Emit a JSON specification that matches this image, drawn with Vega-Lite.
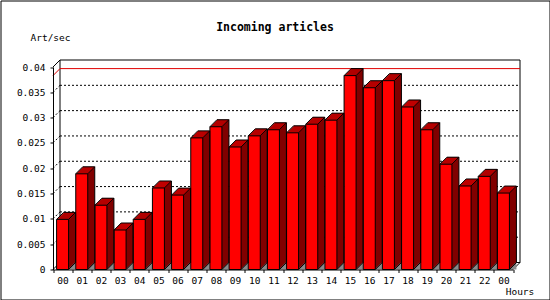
{
  "$schema": "https://vega.github.io/schema/vega-lite/v6.json",
  "width": 549,
  "height": 299,
  "autosize": "none",
  "padding": {"left": 0.5, "top": 0.5, "right": 0.5, "bottom": 0.5},
  "background": "white",
  "config": {"view": {"stroke": "black", "strokeWidth": 1}},
  "title": {"text": "Incoming articles", "font": "DejaVu Sans Mono", "fontSize": 11.5, "fontWeight": "bold", "color": "black", "anchor": "middle", "frame": "group", "offset": -39, "baseline": "middle"},
  "resolve": {"axis": {"x": "independent", "y": "independent"}},
  "datasets": {
    "hours": [
      {"hour": "00", "rate": 0.0099},
      {"hour": "01", "rate": 0.0189},
      {"hour": "02", "rate": 0.0127},
      {"hour": "03", "rate": 0.0078},
      {"hour": "04", "rate": 0.0099},
      {"hour": "05", "rate": 0.0161},
      {"hour": "06", "rate": 0.0147},
      {"hour": "07", "rate": 0.0260},
      {"hour": "08", "rate": 0.0282},
      {"hour": "09", "rate": 0.0242},
      {"hour": "10", "rate": 0.0264},
      {"hour": "11", "rate": 0.0276},
      {"hour": "12", "rate": 0.0270},
      {"hour": "13", "rate": 0.0287},
      {"hour": "14", "rate": 0.0295},
      {"hour": "15", "rate": 0.0383},
      {"hour": "16", "rate": 0.0359},
      {"hour": "17", "rate": 0.0373},
      {"hour": "18", "rate": 0.0321},
      {"hour": "19", "rate": 0.0276},
      {"hour": "20", "rate": 0.0208},
      {"hour": "21", "rate": 0.0165},
      {"hour": "22", "rate": 0.0184},
      {"hour": "00 ", "rate": 0.0151}
    ],
    "grid": [{"v": 0.005}, {"v": 0.01}, {"v": 0.015}, {"v": 0.02}, {"v": 0.025}, {"v": 0.03}, {"v": 0.035}]
  },
  "data": {"name": "hours"},
  "layer": [
    {
      "mark": {"type": "bar", "width": 0.01, "fill": "white", "opacity": 0},
      "encoding": {
        "x": {
          "field": "hour", "type": "ordinal", "sort": null,
          "scale": {"domain": ["00","01","02","03","04","05","06","07","08","09","10","11","12","13","14","15","16","17","18","19","20","21","22","00 "], "range": [52.5, 512.5], "paddingInner": 0, "paddingOuter": 0},
          "axis": {"orient": "bottom", "offset": -30, "tickBand": "extent", "tickSize": 3, "tickColor": "black", "domainColor": "black", "labelFont": "DejaVu Sans Mono", "labelFontSize": 9.5, "labelColor": "black", "labelPadding": 3, "labelAngle": 0, "labelExpr": "trim(datum.label)", "labelOverlap": false, "grid": false, "title": "Hours", "titleX": 519, "titleY": 22, "titleFont": "DejaVu Sans Mono", "titleFontSize": 9.5, "titleFontWeight": "normal", "titleColor": "black", "titleBaseline": "middle", "titleAlign": "center", "zindex": 1}
        },
        "y": {
          "field": "rate", "type": "quantitative",
          "scale": {"domain": [0, 0.04], "range": [269, 66.5], "nice": false, "zero": true},
          "axis": {"orient": "left", "offset": -52.5, "tickCount": 12, "values": [0, 0.005, 0.01, 0.015, 0.02, 0.025, 0.03, 0.035, 0.04], "format": "~g", "labelOverlap": false, "labelFlush": false, "tickSize": 3, "tickColor": "black", "domainColor": "black", "labelFont": "DejaVu Sans Mono", "labelFontSize": 9.5, "labelColor": "black", "labelPadding": 5, "grid": false, "title": "Art/sec", "titleAngle": 0, "titleX": -3, "titleY": 37, "titleFont": "DejaVu Sans Mono", "titleFontSize": 9.5, "titleFontWeight": "normal", "titleColor": "black", "titleBaseline": "middle", "titleAlign": "center", "zindex": 1}
        }
      }
    },
    {
      "data": {"values": [{"wall": "back"}]},
      "mark": {"type": "rect", "fill": "white", "stroke": "black", "strokeWidth": 1, "xOffset": 7, "x2Offset": 7, "yOffset": -7, "y2Offset": -7},
      "encoding": {
        "x": {"datum": "00", "type": "ordinal", "bandPosition": 0, "axis": null},
        "x2": {"datum": "00 ", "bandPosition": 1},
        "y": {"datum": 0.04, "type": "quantitative", "axis": null},
        "y2": {"datum": 0}
      }
    },
    {
      "data": {"values": [{"lv": 0}, {"lv": 0.04}]},
      "mark": {"type": "rule", "color": "black", "strokeWidth": 1, "x2Offset": 7, "y2Offset": -7},
      "encoding": {
        "x": {"datum": "00", "type": "ordinal", "bandPosition": 0, "axis": null},
        "x2": {"datum": "00", "bandPosition": 0},
        "y": {"field": "lv", "type": "quantitative", "axis": null},
        "y2": {"field": "lv"}
      }
    },
    {
      "data": {"values": [{"lv": 0}]},
      "mark": {"type": "rule", "color": "black", "strokeWidth": 1, "x2Offset": 7, "y2Offset": -7},
      "encoding": {
        "x": {"datum": "00 ", "type": "ordinal", "bandPosition": 1, "axis": null},
        "x2": {"datum": "00 ", "bandPosition": 1},
        "y": {"field": "lv", "type": "quantitative", "axis": null},
        "y2": {"field": "lv"}
      }
    },
    {
      "data": {"name": "grid"},
      "mark": {"type": "rule", "color": "black", "strokeWidth": 1, "strokeDash": [2, 2], "xOffset": 7, "x2Offset": 7, "yOffset": -7},
      "encoding": {
        "x": {"datum": "00", "type": "ordinal", "bandPosition": 0, "axis": null},
        "x2": {"datum": "00 ", "bandPosition": 1},
        "y": {"field": "v", "type": "quantitative", "axis": null}
      }
    },
    {
      "data": {"name": "grid"},
      "mark": {"type": "rule", "color": "black", "strokeWidth": 1, "strokeDash": [2, 2], "x2Offset": 7, "y2Offset": -7},
      "encoding": {
        "x": {"datum": "00", "type": "ordinal", "bandPosition": 0, "axis": null},
        "x2": {"datum": "00", "bandPosition": 0},
        "y": {"field": "v", "type": "quantitative", "axis": null},
        "y2": {"field": "v"}
      }
    },
    {
      "transform": [{"aggregate": [{"op": "max", "field": "rate", "as": "peak"}]}],
      "mark": {"type": "rule", "color": "#e00000", "strokeWidth": 1, "xOffset": 7, "x2Offset": 7, "yOffset": -7},
      "encoding": {
        "x": {"datum": "00", "type": "ordinal", "bandPosition": 0, "axis": null},
        "x2": {"datum": "00 ", "bandPosition": 1},
        "y": {"field": "peak", "type": "quantitative", "axis": null}
      }
    },
    {
      "transform": [{"aggregate": [{"op": "max", "field": "rate", "as": "peak"}]}],
      "mark": {"type": "rule", "color": "#e00000", "strokeWidth": 1, "x2Offset": 7, "y2Offset": -7},
      "encoding": {
        "x": {"datum": "00", "type": "ordinal", "bandPosition": 0, "axis": null},
        "x2": {"datum": "00", "bandPosition": 0},
        "y": {"field": "peak", "type": "quantitative", "axis": null},
        "y2": {"field": "peak"}
      }
    },
    {
      "mark": {"type": "bar", "width": 7, "xOffset": 9.5, "yOffset": -7, "fill": "#8a8a8a"},
      "encoding": {
        "x": {"field": "hour", "type": "ordinal", "axis": null},
        "y": {"datum": 0, "type": "quantitative", "axis": null},
        "y2": {"datum": 0}
      }
    },
    {"mark": {"type": "bar", "width": 12, "xOffset": 1, "yOffset": -1, "y2Offset": -1, "fill": "#800000"}, "encoding": {"x": {"field": "hour", "type": "ordinal", "axis": null}, "y": {"field": "rate", "type": "quantitative", "axis": null}, "y2": {"datum": 0}}},
    {"mark": {"type": "bar", "width": 12, "xOffset": 2, "yOffset": -2, "y2Offset": -2, "fill": "#800000"}, "encoding": {"x": {"field": "hour", "type": "ordinal", "axis": null}, "y": {"field": "rate", "type": "quantitative", "axis": null}, "y2": {"datum": 0}}},
    {"mark": {"type": "bar", "width": 12, "xOffset": 3, "yOffset": -3, "y2Offset": -3, "fill": "#800000"}, "encoding": {"x": {"field": "hour", "type": "ordinal", "axis": null}, "y": {"field": "rate", "type": "quantitative", "axis": null}, "y2": {"datum": 0}}},
    {"mark": {"type": "bar", "width": 12, "xOffset": 4, "yOffset": -4, "y2Offset": -4, "fill": "#800000"}, "encoding": {"x": {"field": "hour", "type": "ordinal", "axis": null}, "y": {"field": "rate", "type": "quantitative", "axis": null}, "y2": {"datum": 0}}},
    {"mark": {"type": "bar", "width": 12, "xOffset": 5, "yOffset": -5, "y2Offset": -5, "fill": "#800000"}, "encoding": {"x": {"field": "hour", "type": "ordinal", "axis": null}, "y": {"field": "rate", "type": "quantitative", "axis": null}, "y2": {"datum": 0}}},
    {"mark": {"type": "bar", "width": 12, "xOffset": 6, "yOffset": -6, "y2Offset": -6, "fill": "#800000"}, "encoding": {"x": {"field": "hour", "type": "ordinal", "axis": null}, "y": {"field": "rate", "type": "quantitative", "axis": null}, "y2": {"datum": 0}}},
    {"mark": {"type": "bar", "width": 12, "xOffset": 7, "yOffset": -7, "y2Offset": -7, "fill": "#800000"}, "encoding": {"x": {"field": "hour", "type": "ordinal", "axis": null}, "y": {"field": "rate", "type": "quantitative", "axis": null}, "y2": {"datum": 0}}},
    {"mark": {"type": "bar", "width": 12, "xOffset": 1, "yOffset": -1, "y2Offset": 0, "fill": "#c00000"}, "encoding": {"x": {"field": "hour", "type": "ordinal", "axis": null}, "y": {"field": "rate", "type": "quantitative", "axis": null}, "y2": {"field": "rate"}}},
    {"mark": {"type": "bar", "width": 12, "xOffset": 2, "yOffset": -2, "y2Offset": -1, "fill": "#c00000"}, "encoding": {"x": {"field": "hour", "type": "ordinal", "axis": null}, "y": {"field": "rate", "type": "quantitative", "axis": null}, "y2": {"field": "rate"}}},
    {"mark": {"type": "bar", "width": 12, "xOffset": 3, "yOffset": -3, "y2Offset": -2, "fill": "#c00000"}, "encoding": {"x": {"field": "hour", "type": "ordinal", "axis": null}, "y": {"field": "rate", "type": "quantitative", "axis": null}, "y2": {"field": "rate"}}},
    {"mark": {"type": "bar", "width": 12, "xOffset": 4, "yOffset": -4, "y2Offset": -3, "fill": "#c00000"}, "encoding": {"x": {"field": "hour", "type": "ordinal", "axis": null}, "y": {"field": "rate", "type": "quantitative", "axis": null}, "y2": {"field": "rate"}}},
    {"mark": {"type": "bar", "width": 12, "xOffset": 5, "yOffset": -5, "y2Offset": -4, "fill": "#c00000"}, "encoding": {"x": {"field": "hour", "type": "ordinal", "axis": null}, "y": {"field": "rate", "type": "quantitative", "axis": null}, "y2": {"field": "rate"}}},
    {"mark": {"type": "bar", "width": 12, "xOffset": 6, "yOffset": -6, "y2Offset": -5, "fill": "#c00000"}, "encoding": {"x": {"field": "hour", "type": "ordinal", "axis": null}, "y": {"field": "rate", "type": "quantitative", "axis": null}, "y2": {"field": "rate"}}},
    {"mark": {"type": "bar", "width": 12, "xOffset": 7, "yOffset": -7, "y2Offset": -6, "fill": "#c00000"}, "encoding": {"x": {"field": "hour", "type": "ordinal", "axis": null}, "y": {"field": "rate", "type": "quantitative", "axis": null}, "y2": {"field": "rate"}}},
    {
      "mark": {"type": "bar", "width": 12, "fill": "#ff0000", "stroke": "black", "strokeWidth": 1},
      "encoding": {"x": {"field": "hour", "type": "ordinal", "axis": null}, "y": {"field": "rate", "type": "quantitative", "axis": null}}
    },
    {"mark": {"type": "rule", "color": "black", "strokeWidth": 1, "xOffset": 1, "x2Offset": 13, "yOffset": -7}, "encoding": {"x": {"field": "hour", "type": "ordinal", "axis": null}, "x2": {"field": "hour"}, "y": {"field": "rate", "type": "quantitative", "axis": null}}},
    {"mark": {"type": "rule", "color": "black", "strokeWidth": 1, "xOffset": 13, "yOffset": -7, "y2Offset": -7}, "encoding": {"x": {"field": "hour", "type": "ordinal", "axis": null}, "y": {"field": "rate", "type": "quantitative", "axis": null}, "y2": {"datum": 0}}},
    {"mark": {"type": "rule", "color": "black", "strokeWidth": 1, "xOffset": -6, "x2Offset": 1, "y2Offset": -7}, "encoding": {"x": {"field": "hour", "type": "ordinal", "axis": null}, "x2": {"field": "hour"}, "y": {"field": "rate", "type": "quantitative", "axis": null}, "y2": {"field": "rate"}}},
    {"mark": {"type": "rule", "color": "black", "strokeWidth": 1, "xOffset": 6, "x2Offset": 13, "y2Offset": -7}, "encoding": {"x": {"field": "hour", "type": "ordinal", "axis": null}, "x2": {"field": "hour"}, "y": {"field": "rate", "type": "quantitative", "axis": null}, "y2": {"field": "rate"}}},
    {"mark": {"type": "rule", "color": "black", "strokeWidth": 1, "xOffset": 6, "x2Offset": 13, "y2Offset": -7}, "encoding": {"x": {"field": "hour", "type": "ordinal", "axis": null}, "x2": {"field": "hour"}, "y": {"datum": 0, "type": "quantitative", "axis": null}, "y2": {"datum": 0}}}
  ]
}
